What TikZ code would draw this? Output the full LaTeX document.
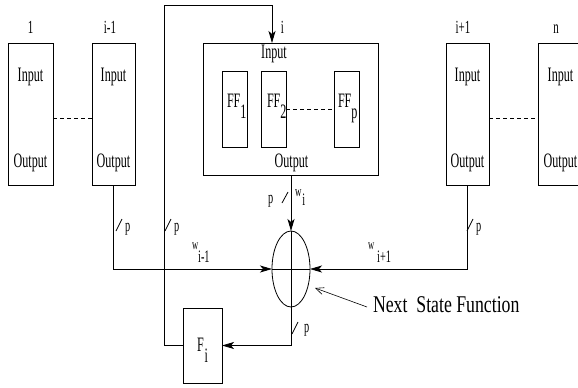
\documentclass[tikz,border=0pt]{standalone}
\usepackage{fontspec}
\setmainfont{Liberation Serif}
\newfontfamily\cnd[FakeStretch=0.59]{Liberation Serif}
\newfontfamily\cndb[FakeStretch=0.74]{Liberation Serif}
\usetikzlibrary{arrows.meta,shapes.geometric}
\begin{document}
\begin{tikzpicture}[x=1pt,y=-1pt,
  every node/.style={inner sep=0pt, outer sep=0pt},
  line width=0.8pt,
  blk/.style={draw, minimum width=#1, minimum height=142pt},
  ffbox/.style={draw, minimum width=25pt, minimum height=76pt},
  boxtxt/.style={font=\cnd\fontsize{20.5}{20.5}\selectfont, anchor=base},
  lbl/.style={font=\cnd\fontsize{18.5}{18.5}\selectfont, anchor=base},
  sml/.style={font=\cnd\fontsize{17.5}{17.5}\selectfont, anchor=base west},
  arr/.style={-{Stealth[length=12pt,width=7pt,inset=3pt]}},
  oarr/.style={-{Straight Barb[length=8pt,width=7pt]}},
  dsh/.style={dash pattern=on 4pt off 3pt}
  ]
\useasboundingbox (0,0) rectangle (578,388);
\clip (0,0) rectangle (578,388);

% top-level blocks
\node[blk=45pt] (b1)  at (30.5,114) {};
\node[blk=43pt] (bim) at (113.5,114) {};
\node[draw, minimum width=175pt, minimum height=132pt] (bi) at (290.5,109) {};
\node[blk=43pt] (bip) at (467.5,114) {};
\node[blk=45pt] (bn)  at (560.5,114) {};

% flip-flops
\node[ffbox] (ff1) at (234.5,109) {};
\node[ffbox] (ff2) at (273.5,109) {};
\node[ffbox] (ffp) at (346.5,109) {};

% F_i and next state function
\node[draw, minimum width=39pt, minimum height=75pt] (fi) at (202.5,345.5) {};
\node[draw, ellipse, minimum width=38pt, minimum height=76pt] (ell) at (291,269) {};

% labels above blocks
\node[lbl] (l1)  at (30.5,33) {1};
\node[lbl] (lim) at (110,33) {i-1};
\node[lbl] (li)  at (282.5,33) {i};
\node[lbl] (lip) at (463,33) {i+1};
\node[lbl] (ln)  at (556,33) {n};

% Input / Output texts
\node[boxtxt] (in1)  at (30.5,81) {Input};
\node[boxtxt] (out1) at (30.5,167) {Output};
\node[boxtxt] (inim)  at (113.5,81) {Input};
\node[boxtxt] (outim) at (113.5,167) {Output};
\node[boxtxt] (ini)  at (274,58) {Input};
\node[boxtxt] (outi) at (291.5,167) {Output};
\node[boxtxt] (inip)  at (467.5,81) {Input};
\node[boxtxt] (outip) at (467.5,167) {Output};
\node[boxtxt] (inn)  at (560.5,81) {Input};
\node[boxtxt] (outn) at (560.5,167) {Output};

% flip-flop texts
\node[boxtxt, anchor=base west] (tff1) at (227,107) {FF\raisebox{-11pt}{1}};
\node[boxtxt, anchor=base west] (tff2) at (267,107) {FF\raisebox{-11pt}{2}};
\node[boxtxt, anchor=base west] (tffp) at (338,107) {FF\raisebox{-11pt}{p}};
\node[boxtxt, anchor=base west] (tfi)  at (197,351) {F\kern1pt\raisebox{-11pt}{i}};

% dashed links
\draw[dsh] ([yshift=-4pt]b1.east) -- ([yshift=-4pt]bim.west);
\draw[dsh] ([yshift=-4pt]bip.east) -- ([yshift=-4pt]bn.west);
\draw[dsh] (ff2.east) -- (ffp.west);

% feedback loop
\coordinate (lpc) at (164,5);
\coordinate (topin) at (272,43);
\draw[arr] (fi.west) -| (lpc) -| (topin);

% into next state function
\draw[arr] (ell.north |- bi.south) -- (ell.north);
\draw[arr] (bim.south) |- (ell.west);
\draw[arr] (bip.south) |- (ell.east);
\draw (ell.north) -- (ell.south);
\draw (ell.west) -- (ell.east);
\draw[arr] (ell.south) |- (fi.east);

% bus width marks
\draw (116,231) -- (122,219);
\node[sml] (p1) at (125,231) {p};
\draw (165,231) -- (171,219);
\node[sml] (p2) at (174,231) {p};
\draw (467,231) -- (473,219);
\node[sml] (p3) at (476,231) {p};
\draw (292,334) -- (298,322);
\node[sml] (p4) at (304,332) {p};
\draw (282,203) -- (288,192);
\node[sml] (p5) at (268,203) {p};

% w labels
\node[sml] (wim) at (192,249) {{\fontsize{14.5}{14.5}\selectfont w}\raisebox{-13pt}{i-1}};
\node[sml] (wip) at (368,249) {{\fontsize{14.5}{14.5}\selectfont w}\kern3pt\raisebox{-13pt}{i+1}};
\node[sml] (wi)  at (295,196) {{\fontsize{15}{15}\selectfont w}\kern1pt\raisebox{-9pt}{i}};

% next state function label
\node[font=\cndb\fontsize{24}{24}\selectfont, anchor=base west] (nsf) at (373,312) {Next\ \ State Function};
\coordinate (nsftip) at (315,288);
\draw[oarr, line width=0.6pt] (367,307) -- (nsftip);
\end{tikzpicture}
\end{document}
